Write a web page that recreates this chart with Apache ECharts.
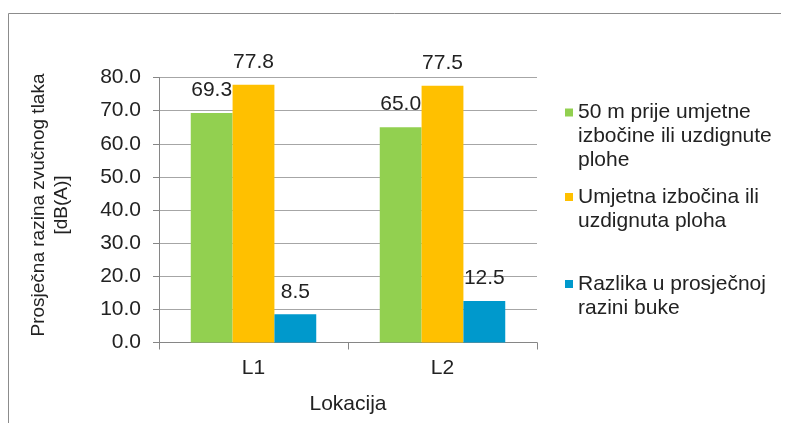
<!DOCTYPE html>
<html>
<head>
<meta charset="utf-8">
<title>Prosječna razina zvučnog tlaka</title>
<script src="https://cdn.jsdelivr.net/npm/echarts@6/dist/echarts.min.js"></script>
<style>
  html, body { margin: 0; padding: 0; background: #fff; }
  #chart { width: 790px; height: 423px; }
</style>
</head>
<body>
<div id="chart"></div>
<script>
// Locations and measured average sound pressure levels, dB(A)
const categories = ['L1', 'L2'];
const seriesNames = [
  '50 m prije umjetne\nizbočine ili uzdignute\nplohe',
  'Umjetna izbočina ili\nuzdignuta ploha',
  'Razlika u prosječnoj\nrazini buke'
];
const before50m = [69.3, 65.0];
const onBump = [77.8, 77.5];
const difference = [8.5, 12.5];
const yTicks = [0, 10, 20, 30, 40, 50, 60, 70, 80];

const colors = ['#92D050', '#FFC000', '#0099CC'];
const FONT = '"Liberation Sans", Arial, sans-serif';
const TEXT = '#222';
const LINE_H = 24;

const chart = echarts.init(document.getElementById('chart'), null, { renderer: 'canvas' });

function bar(name, data, color) {
  return {
    name: name,
    type: 'bar',
    data: data,
    barGap: 0,
    barCategoryGap: '33.6%',
    itemStyle: { color: color },
    label: {
      show: true,
      position: 'top',
      distance: 12,
      color: TEXT,
      fontFamily: FONT,
      fontSize: 21,
      formatter: p => p.value.toFixed(1)
    },
    emphasis: { disabled: true }
  };
}

// One legend block per series so each entry sits at its own height.
// Leading blank lines keep the square level with the first text line.
function legendBlock(name, iconCenter) {
  const n = name.split('\n').length;
  return {
    data: [name],
    orient: 'vertical',
    left: 565,
    top: iconCenter - (2 * n - 1) * LINE_H / 2,
    padding: 0,
    itemWidth: 8,
    itemHeight: 8,
    icon: 'rect',
    selectedMode: false,
    formatter: s => '\n'.repeat(n - 1) + s,
    textStyle: {
      color: TEXT,
      fontFamily: FONT,
      fontSize: 21,
      lineHeight: LINE_H
    }
  };
}

const option = {
  animation: false,
  backgroundColor: '#fff',
  textStyle: { fontFamily: FONT },
  graphic: [{
    type: 'polyline',
    silent: true,
    shape: { points: [[8.5, 430], [8.5, 13.5], [781, 13.5]] },
    style: { stroke: '#8c8c8c', lineWidth: 1, fill: null }
  }],
  legend: [
    legendBlock(seriesNames[0], 112.5),
    legendBlock(seriesNames[1], 197),
    legendBlock(seriesNames[2], 284)
  ],
  grid: { left: 159, right: 253, top: 77.5, bottom: 80.5, containLabel: false },
  xAxis: {
    type: 'category',
    data: categories,
    name: 'Lokacija',
    nameLocation: 'middle',
    nameGap: 51,
    nameTextStyle: { color: TEXT, fontFamily: FONT, fontSize: 21 },
    axisLine: { lineStyle: { color: '#868686', width: 1 } },
    axisTick: { show: true, length: 7, alignWithLabel: false, lineStyle: { color: '#868686' } },
    axisLabel: { color: TEXT, fontFamily: FONT, fontSize: 21, margin: 15 }
  },
  yAxis: {
    type: 'value',
    min: yTicks[0],
    max: yTicks[yTicks.length - 1],
    interval: 10,
    name: 'Prosječna razina zvučnog tlaka\n[dB(A)]',
    nameLocation: 'middle',
    nameGap: 86,
    nameTextStyle: {
      color: TEXT, fontFamily: FONT, fontSize: 19, lineHeight: 23, align: 'center',
      padding: [0, 0, 0, 10]
    },
    axisLine: { show: true, lineStyle: { color: '#868686', width: 1 } },
    axisTick: { show: true, length: 6, lineStyle: { color: '#868686' } },
    axisLabel: {
      color: TEXT, fontFamily: FONT, fontSize: 21, margin: 18,
      formatter: v => v.toFixed(1)
    },
    splitLine: { show: true, lineStyle: { color: '#a6a6a6', width: 1 } }
  },
  series: [
    bar(seriesNames[0], before50m, colors[0]),
    bar(seriesNames[1], onBump, colors[1]),
    bar(seriesNames[2], difference, colors[2])
  ]
};

chart.setOption(option);
</script>
</body>
</html>
